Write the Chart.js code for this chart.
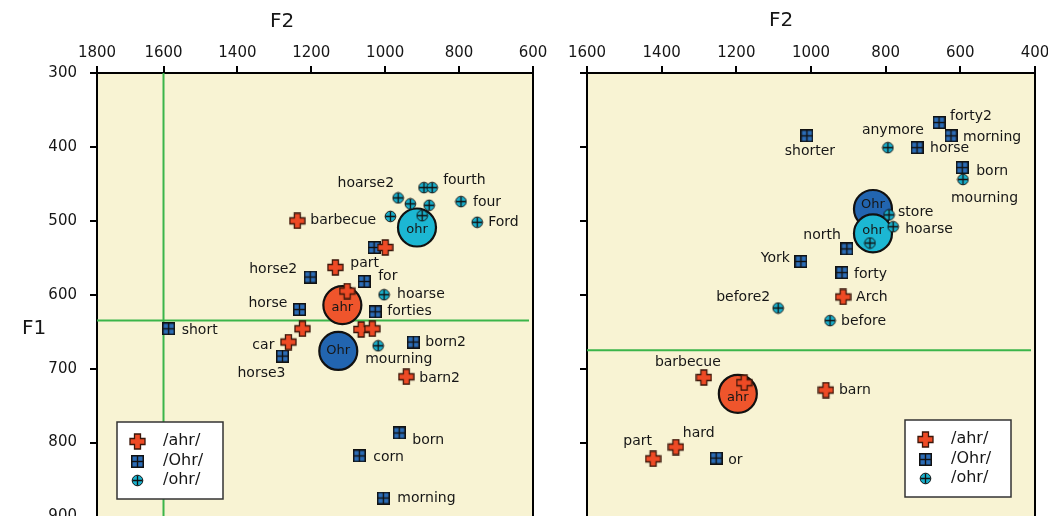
<!DOCTYPE html>
<html><head><meta charset="utf-8">
<script src="https://cdn.jsdelivr.net/npm/chart.js@4.4.1/dist/chart.umd.min.js"></script>
<style>
html,body{margin:0;padding:0;background:#fff;overflow:hidden;}
#wrap{position:relative;width:1048px;height:516px;overflow:hidden;background:#fff;}
#boxL{position:absolute;left:0;top:0;width:560px;height:600px;}
#boxR{position:absolute;left:545px;top:0;width:520px;height:600px;}
canvas{display:block;}
</style></head><body>
<div id="wrap">
<div id="boxL"><canvas id="cL" width="560" height="600" style="width:560px;height:600px"></canvas></div>
<div id="boxR"><canvas id="cR" width="520" height="600" style="width:520px;height:600px"></canvas></div>
</div>
<script>
// ---------- tick labels ----------
const F1_TICKS = [300, 400, 500, 600, 700, 800, 900];
const LEFT_F2_TICKS = [1800, 1600, 1400, 1200, 1000, 800, 600];
const RIGHT_F2_TICKS = [1600, 1400, 1200, 1000, 800, 600, 400];
const LEFT_F2_EDGE = 1780;   // visible left edge of left panel (tick "1800" sits on it)

// ---------- left panel data: [word, F2, F1] ----------
const leftAhr = [
  ['barbecue', 1238, 500], ['', 1000, 536], ['part', 1135, 563], ['', 1103, 595],
  ['', 1224, 646], ['car', 1262, 664], ['', 1065, 647], ['', 1035, 646], ['barn2', 943, 711]
];
const leftOhrBack = [
  ['', 1030, 536], ['horse2', 1203, 576], ['for', 1057, 582], ['horse', 1232, 620],
  ['forties', 1027, 623], ['short', 1586, 646], ['horse3', 1278, 683], ['born2', 924, 664],
  ['born', 962, 787], ['corn', 1070, 818], ['morning', 1005, 875]
];
const leftOhrFront = [
  ['hoarse2', 965, 469], ['', 932, 477], ['', 895, 455], ['fourth', 873, 455], ['', 881, 479],
  ['four', 795, 474], ['Ford', 751, 502], ['', 986, 494], ['', 900, 493],
  ['hoarse', 1003, 600], ['mourning', 1019, 669]
];
const leftMeans = [['ahr', 1116, 614], ['Ohr', 1127, 676], ['ohr', 914, 509]];
const LEFT_GUIDE_F2 = [1600];
const LEFT_GUIDE_F1 = [635];

// ---------- right panel data ----------
const rightAhr = [
  ['Arch', 914, 603], ['barbecue', 1287, 712], ['', 1179, 719], ['barn', 960, 729],
  ['hard', 1362, 806], ['part', 1423, 822]
];
const rightOhrBack = [
  ['shorter', 1011, 385], ['forty2', 657, 367], ['morning', 625, 385], ['horse', 716, 401],
  ['born', 595, 428], ['north', 904, 538], ['York', 1027, 555], ['forty', 917, 570], ['or', 1254, 821]
];
const rightOhrFront = [
  ['anymore', 794, 401], ['mourning', 593, 444], ['store', 791, 492], ['hoarse', 780, 508],
  ['', 842, 530], ['before2', 1088, 618], ['before', 949, 635]
];
const rightMeans = [['ahr', 1196, 734], ['Ohr', 834, 484], ['ohr', 834, 517]];
const RIGHT_GUIDE_F1 = [675];

const LEGEND_NAMES = ['/ahr/', '/Ohr/', '/ohr/'];

// ---------- label placement (text offsets from its marker) ----------
const LEFT_LABEL_AT = {
  barbecue:[13,0,'left'], part:[15,-4,'left'], horse2:[-13,-8,'right'], for:[14,-5,'left'],
  hoarse2:[-4,-15,'right'], fourth:[11,-7,'left'], four:[12,1,'left'], Ford:[11,0,'left'],
  horse:[-12,-6,'right'], hoarse:[13,0,'left'], forties:[12,0,'left'], short:[13,2,'left'],
  car:[-14,3,'right'], horse3:[3,17,'right'], mourning:[-13,14,'left'], born2:[12,0,'left'],
  barn2:[13,2,'left'], born:[13,7,'left'], corn:[14,1,'left'], morning:[14,0,'left']
};
const RIGHT_LABEL_AT = {
  shorter:[3,16,'center'], forty2:[11,-6,'left'], morning:[12,2,'left'], anymore:[5,-17,'center'],
  horse:[13,1,'left'], born:[14,4,'left'], mourning:[-12,19,'left'], store:[9,-3,'left'],
  hoarse:[12,3,'left'], north:[-6,-14,'right'], York:[-11,-3,'right'], forty:[12,2,'left'],
  Arch:[13,0,'left'], before2:[-8,-11,'right'], before:[11,1,'left'], barbecue:[-16,-15,'center'],
  barn:[13,0,'left'], hard:[7,-14,'left'], part:[-1,-17,'right'], or:[12,2,'left']
};
const LEFT_MEAN_TEXT_DY = [3, 0, 2];
const RIGHT_MEAN_TEXT_DY = [4, -4, -3];

// ---------- styles ----------
const FONT = '"DejaVu Sans", "Noto Sans", sans-serif';
const BG = '#F8F3D3';
const GREEN = '#3BB54A';
const TEXT = '#161616';
const MEAN_COLORS = ['#EF552C', '#2265B0', '#1CB7D3'];

function crossImg() {
  const c = document.createElement('canvas'); c.width = 17; c.height = 17;
  const g = c.getContext('2d');
  const a = 1, b = 5.5, d = 11.5, e = 16;
  g.beginPath();
  g.moveTo(b, a); g.lineTo(d, a); g.lineTo(d, b); g.lineTo(e, b); g.lineTo(e, d); g.lineTo(d, d);
  g.lineTo(d, e); g.lineTo(b, e); g.lineTo(b, d); g.lineTo(a, d); g.lineTo(a, b); g.lineTo(b, b);
  g.closePath();
  g.fillStyle = '#EE4A25'; g.fill();
  g.lineWidth = 1.3; g.strokeStyle = '#3a160a'; g.stroke();
  return c;
}
function squareImg() {
  const c = document.createElement('canvas'); c.width = 13; c.height = 13;
  const g = c.getContext('2d');
  g.fillStyle = '#111'; g.fillRect(0, 0, 13, 13);
  g.fillStyle = '#2B6CB6';
  g.fillRect(1.5, 1.5, 4.3, 4.3); g.fillRect(7.2, 1.5, 4.3, 4.3);
  g.fillRect(1.5, 7.2, 4.3, 4.3); g.fillRect(7.2, 7.2, 4.3, 4.3);
  return c;
}
function tealImg() {
  const c = document.createElement('canvas'); c.width = 13; c.height = 13;
  const g = c.getContext('2d');
  g.beginPath(); g.arc(6.5, 6.5, 5.3, 0, Math.PI * 2);
  g.fillStyle = '#19B0CC'; g.fill();
  g.lineWidth = 1; g.strokeStyle = '#111'; g.stroke();
  g.beginPath(); g.moveTo(6.5, 1.5); g.lineTo(6.5, 11.5); g.moveTo(1.5, 6.5); g.lineTo(11.5, 6.5);
  g.lineWidth = 1.3; g.stroke();
  return c;
}
const MARKERS = [crossImg(), squareImg(), tealImg()];

const pts = arr => arr.map(([w, f2, f1]) => ({ x: f2, y: f1, w }));

function buildDatasets(ahr, ohrBack, ohrFront, means) {
  return [
    { label: LEGEND_NAMES[0], data: pts(ahr), pointStyle: MARKERS[0], pointRadius: 8, order: 0 },
    { label: LEGEND_NAMES[1], data: pts(ohrBack), pointStyle: MARKERS[1], pointRadius: 6, order: 2 },
    { label: LEGEND_NAMES[2], data: pts(ohrFront), pointStyle: MARKERS[2], pointRadius: 6, order: 1 },
    { label: 'means', isMean: true, data: pts(means), pointStyle: 'circle', pointRadius: 19,
      backgroundColor: MEAN_COLORS, borderColor: '#111', borderWidth: 2.2, order: 5 }
  ];
}

function decor(o) {
  return {
    id: 'decor',
    beforeDraw(chart) {
      const { ctx, chartArea: a } = chart;
      ctx.save(); ctx.fillStyle = BG;
      ctx.fillRect(a.left, a.top, a.right - a.left, chart.height - a.top);
      ctx.restore();
    },
    beforeDatasetsDraw(chart) {
      const { ctx, chartArea: a, scales } = chart;
      ctx.save(); ctx.strokeStyle = GREEN; ctx.lineWidth = 2;
      (o.guideX || []).forEach(v => {
        const px = scales.x.getPixelForValue(v);
        ctx.beginPath(); ctx.moveTo(px, a.top); ctx.lineTo(px, chart.height); ctx.stroke();
      });
      (o.guideY || []).forEach(v => {
        const py = scales.y.getPixelForValue(v);
        ctx.beginPath(); ctx.moveTo(a.left, py); ctx.lineTo(a.right - 4, py); ctx.stroke();
      });
      ctx.restore();
    },
    afterDatasetDraw(chart, args) {
      const ds = chart.data.datasets[args.index];
      if (!ds.isMean) return;
      const { ctx } = chart;
      ctx.save(); ctx.fillStyle = TEXT; ctx.font = '13px ' + FONT;
      ctx.textAlign = 'center'; ctx.textBaseline = 'middle';
      args.meta.data.forEach((el, i) => ctx.fillText(ds.data[i].w, el.x, el.y + o.meanDy[i]));
      ctx.restore();
    },
    afterDatasetsDraw(chart) {
      const { ctx } = chart;
      ctx.save(); ctx.fillStyle = TEXT; ctx.font = '14px ' + FONT; ctx.textBaseline = 'middle';
      chart.data.datasets.forEach((ds, di) => {
        if (ds.isMean) return;
        chart.getDatasetMeta(di).data.forEach((el, i) => {
          const w = ds.data[i].w;
          if (!w) return;
          const p = o.place[w] || [12, 0, 'left'];
          ctx.textAlign = p[2];
          ctx.fillText(w, el.x + p[0], el.y + p[1]);
        });
      });
      ctx.restore();
    },
    afterDraw(chart) {
      const { ctx, chartArea: a } = chart;
      ctx.save();
      ctx.strokeStyle = '#000'; ctx.lineWidth = 2;
      ctx.beginPath(); ctx.moveTo(a.right, a.top - 1); ctx.lineTo(a.right, chart.height); ctx.stroke();
      ctx.fillStyle = TEXT; ctx.font = '20px ' + FONT; ctx.textAlign = 'center'; ctx.textBaseline = 'middle';
      ctx.fillText('F2', o.f2Title[0], o.f2Title[1]);
      if (o.f1Title) ctx.fillText('F1', o.f1Title[0], o.f1Title[1]);
      const L = o.legend(a);
      ctx.fillStyle = '#fff'; ctx.fillRect(L.x, L.y, L.w, L.h);
      ctx.strokeStyle = '#333'; ctx.lineWidth = 1.5; ctx.strokeRect(L.x, L.y, L.w, L.h);
      ctx.font = '16px ' + FONT; ctx.textAlign = 'left'; ctx.fillStyle = TEXT;
      const rows = [19, 39, 58];
      LEGEND_NAMES.forEach((n, i) => {
        const m = MARKERS[i];
        ctx.drawImage(m, Math.round(L.x + 20 - m.width / 2), Math.round(L.y + rows[i] - m.height / 2));
        ctx.fillText(n, L.x + 46, L.y + rows[i]);
      });
      ctx.restore();
    }
  };
}

function axisCommon() {
  return {
    grid: { drawOnChartArea: false, drawTicks: true, tickLength: 7, color: '#000', lineWidth: 2 },
    border: { display: true, color: '#000', width: 2 }
  };
}

function makeChart(id, o) {
  return new Chart(document.getElementById(id), {
    type: 'scatter',
    data: { datasets: o.datasets },
    options: {
      responsive: false, animation: false, devicePixelRatio: 1, events: [],
      layout: { padding: o.padding },
      plugins: { legend: { display: false }, tooltip: { enabled: false } },
      elements: { point: { borderWidth: 0 } },
      scales: {
        x: Object.assign(axisCommon(), {
          type: 'linear', position: 'top', reverse: true, min: o.xMin, max: o.xMax,
          afterFit(s) { s.height = 73; },
          afterBuildTicks(s) { s.ticks = o.xTicks.map(v => ({ value: Math.min(v, o.xMax) })); },
          ticks: { autoSkip: false, maxRotation: 0, padding: 4, color: TEXT,
                   font: { family: FONT, size: 15 }, callback: (v, i) => String(o.xTicks[i]) }
        }),
        y: Object.assign(axisCommon(), {
          type: 'linear', position: 'left', reverse: true, min: 300, max: 900,
          afterFit(s) { s.width = o.yWidth; },
          afterBuildTicks(s) { s.ticks = F1_TICKS.map(v => ({ value: v })); },
          ticks: { display: o.yLabels, padding: 13, color: TEXT,
                   font: { family: FONT, size: 15 }, callback: (v, i) => String(F1_TICKS[i]) }
        })
      }
    },
    plugins: [decor(o)]
  });
}

makeChart('cL', {
  datasets: buildDatasets(leftAhr, leftOhrBack, leftOhrFront, leftMeans),
  xMin: 600, xMax: LEFT_F2_EDGE, xTicks: LEFT_F2_TICKS,
  yWidth: 97, yLabels: true,
  padding: { left: 0, top: 0, right: 27, bottom: 83.5 },
  guideX: LEFT_GUIDE_F2, guideY: LEFT_GUIDE_F1,
  place: LEFT_LABEL_AT, meanDy: LEFT_MEAN_TEXT_DY,
  f2Title: [282, 22], f1Title: [34, 329],
  legend: a => ({ x: a.left + 20, y: 422, w: 106, h: 77 })
});

makeChart('cR', {
  datasets: buildDatasets(rightAhr, rightOhrBack, rightOhrFront, rightMeans),
  xMin: 400, xMax: 1600, xTicks: RIGHT_F2_TICKS,
  yWidth: 42, yLabels: false,
  padding: { left: 0, top: 0, right: 30, bottom: 83.5 },
  guideX: [], guideY: RIGHT_GUIDE_F1,
  place: RIGHT_LABEL_AT, meanDy: RIGHT_MEAN_TEXT_DY,
  f2Title: [236, 21], f1Title: null,
  legend: a => ({ x: a.right - 130, y: 420, w: 106, h: 77 })
});
</script>
</body></html>
